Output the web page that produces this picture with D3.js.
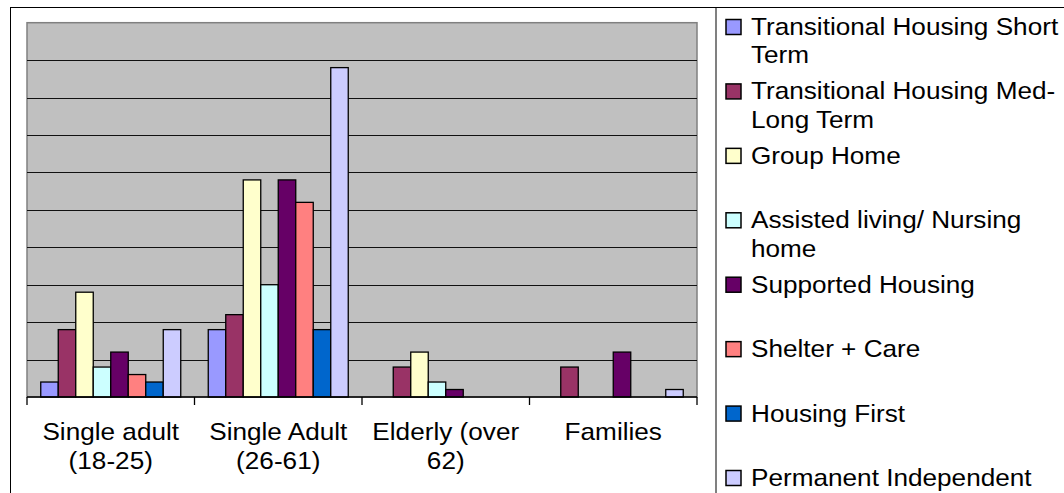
<!DOCTYPE html>
<html>
<head>
<meta charset="utf-8">
<script src="https://cdn.jsdelivr.net/npm/d3@7"></script>
<style>
  body { margin: 0; background: #fff; }
  svg { display: block; }
</style>
</head>
<body>
<svg width="1064" height="493"></svg>
<script>
const { select, scaleBand, scaleLinear, scalePoint, axisBottom } = d3;

// categories along the x axis
const categories = [
    'Single adult (18-25)',
    'Single Adult (26-61)',
    'Elderly (over 62)',
    'Families',
];

// one array of values per series, in category order
const thShort = [2, 9, 0, 0];
const thMedLong = [9, 11, 4, 4];
const groupHome = [14, 29, 6, 0];
const assistedLiving = [4, 15, 2, 0];
const supportedHousing = [6, 29, 1, 6];
const shelterCare = [3, 26, 0, 0];
const housingFirst = [2, 9, 0, 0];
const permanentIndep = [9, 44, 0, 1];

const seriesNames = [
    'Transitional Housing Short Term',
    'Transitional Housing Med-Long Term',
    'Group Home',
    'Assisted living/ Nursing home',
    'Supported Housing',
    'Shelter + Care',
    'Housing First',
    'Permanent Independent',
];
const seriesColors = [
    '#9999ff', '#993366', '#ffffcc', '#ccffff',
    '#660066', '#ff8080', '#0066cc', '#ccccff',
];
const seriesValues = [
    thShort, thMedLong, groupHome, assistedLiving,
    supportedHousing, shelterCare, housingFirst, permanentIndep,
];

// gridline values
const gridTicks = [5, 10, 15, 20, 25, 30, 35, 40, 45];

const svg = select('svg');
const width = +svg.attr('width');
const height = +svg.attr('height');

const plot = { left: 27, right: 697, top: 22.7, bottom: 397 };
const fontFamily = '"Liberation Sans", Arial, sans-serif';
const stretch = 1.09;

// outer chart frame
svg.append('rect')
    .attr('x', 10.5)
    .attr('y', 7.5)
    .attr('width', width)
    .attr('height', height)
    .attr('fill', '#fff')
    .attr('stroke', '#000')
    .attr('stroke-width', 1);

const x0 = scaleBand()
    .domain(categories)
    .range([plot.left, plot.right])
    .paddingInner(0.1642)
    .paddingOuter(0.0821);

const x1 = scaleBand()
    .domain(d3.range(seriesNames.length))
    .range([0, x0.bandwidth()]);

const y = scaleLinear()
    .domain([0, 50])
    .range([plot.bottom, plot.top]);

const color = d3.scaleOrdinal()
    .domain(d3.range(seriesNames.length))
    .range(seriesColors);

// plot background
svg.append('rect')
    .attr('x', plot.left)
    .attr('y', plot.top)
    .attr('width', plot.right - plot.left)
    .attr('height', plot.bottom - plot.top)
    .attr('fill', '#c0c0c0')
    .attr('stroke', '#808080')
    .attr('stroke-width', 1.5);

// gridlines
svg.append('g')
    .selectAll('line')
    .data(gridTicks)
    .join('line')
    .attr('x1', plot.left)
    .attr('x2', plot.right)
    .attr('y1', (d) => Math.round(y(d)) + 0.5)
    .attr('y2', (d) => Math.round(y(d)) + 0.5)
    .attr('stroke', '#111')
    .attr('stroke-width', 1);

// bars
const groups = svg.append('g')
    .selectAll('g')
    .data(categories)
    .join('g')
    .attr('transform', (d) => `translate(${x0(d)},0)`);

groups.selectAll('rect')
    .data((c, ci) =>
        seriesValues
            .map((vals, si) => ({ si, value: vals[ci] }))
            .filter((d) => d.value > 0)
    )
    .join('rect')
    .attr('x', (d) => x1(d.si))
    .attr('y', (d) => y(d.value))
    .attr('width', x1.bandwidth())
    .attr('height', (d) => y(0) - y(d.value))
    .attr('fill', (d) => color(d.si))
    .attr('stroke', '#000')
    .attr('stroke-width', 1.3);

// category axis
const xAxisG = svg.append('g')
    .attr('transform', `translate(0,${plot.bottom})`);

xAxisG.append('line')
    .attr('x1', plot.left)
    .attr('x2', plot.right)
    .attr('stroke', '#000')
    .attr('stroke-width', 1.3);

const tickPositions = categories.map((c) => x0(c) - x0.step() * x0.paddingInner() / 2);
tickPositions[0] = plot.left;
tickPositions.push(plot.right);

xAxisG.selectAll('line.tick')
    .data(tickPositions)
    .join('line')
    .attr('class', 'tick')
    .attr('x1', (d) => d)
    .attr('x2', (d) => d)
    .attr('y1', 0)
    .attr('y2', 8)
    .attr('stroke', '#000')
    .attr('stroke-width', 1.3);

// word wrap helper, allowing breaks at spaces and after hyphens
function wrap(textSel, maxWidth, lineHeight) {
    textSel.each(function () {
        const text = select(this);
        const label = text.text();
        const tokens = [];
        label.split(' ').forEach((word, wi) => {
            word.split(/(?<=-)/).forEach((piece, pi) => {
                tokens.push({ s: piece, sp: wi > 0 && pi === 0 });
            });
        });
        text.text(null);
        let lineNo = 0;
        let line = '';
        let tspan = text.append('tspan').attr('x', 0).attr('dy', 0);
        tokens.forEach((tok, i) => {
            const candidate = line === '' ? tok.s : line + (tok.sp ? ' ' : '') + tok.s;
            tspan.text(candidate);
            if (line !== '' && tspan.node().getComputedTextLength() * stretch > maxWidth) {
                tspan.text(line);
                line = tok.s;
                lineNo += 1;
                tspan = text.append('tspan')
                    .attr('x', 0)
                    .attr('dy', lineHeight)
                    .text(line);
            } else {
                line = candidate;
            }
        });
    });
}

xAxisG.selectAll('text')
    .data(categories)
    .join('text')
    .attr('transform', (d) => `translate(${x0(d) + x0.bandwidth() / 2},43) scale(${stretch},1)`)
    .attr('text-anchor', 'middle')
    .attr('font-family', fontFamily)
    .attr('font-size', 24)
    .attr('fill', '#000')
    .text((d) => d)
    .call(wrap, 160, 29);

// legend panel
svg.append('line')
    .attr('x1', 716)
    .attr('x2', 716)
    .attr('y1', 8)
    .attr('y2', height)
    .attr('stroke', '#808080')
    .attr('stroke-width', 2);

const legendY = scalePoint()
    .domain(d3.range(seriesNames.length))
    .range([35, 486]);

const legendItems = svg.append('g')
    .selectAll('g')
    .data(seriesNames)
    .join('g')
    .attr('transform', (d, i) => `translate(726,${legendY(i)})`);

legendItems.append('rect')
    .attr('x', 0)
    .attr('y', -15.5)
    .attr('width', 15)
    .attr('height', 15)
    .attr('fill', (d, i) => color(i))
    .attr('stroke', '#000')
    .attr('stroke-width', 1.5);

legendItems.append('text')
    .attr('transform', `translate(25,0) scale(${stretch},1)`)
    .attr('font-family', fontFamily)
    .attr('font-size', 24)
    .attr('fill', '#000')
    .text((d) => d)
    .call(wrap, 318, 28.3);
</script>
</body>
</html>
